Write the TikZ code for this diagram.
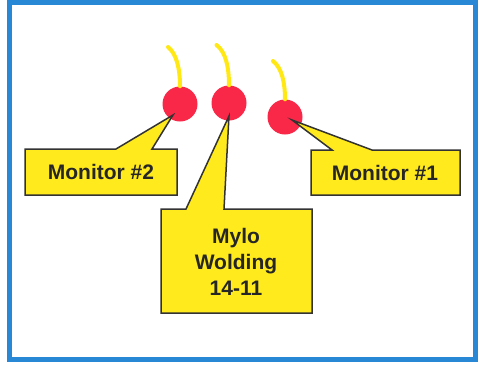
\documentclass[tikz,border=0pt]{standalone}
\usepackage{fontspec}
\setmainfont{Liberation Sans}
\definecolor{frameblue}{RGB}{40,136,214}
\definecolor{bulbred}{RGB}{250,40,72}
\definecolor{wireyellow}{RGB}{255,232,20}
\definecolor{calloutyellow}{RGB}{255,234,30}
\begin{document}
\begin{tikzpicture}[x=1pt,y=-1pt,
  bulb/.style={circle,fill=bulbred,minimum size=35pt,inner sep=0pt},
  wire/.style={draw=wireyellow,line width=4pt,line cap=round},
  callout/.style={fill=calloutyellow,draw=black!80,line width=1.5pt,line join=miter},
  lbl/.style={font=\bfseries\fontsize{21}{26}\selectfont,text=black!85,align=center,inner sep=0pt}]
\useasboundingbox (0,0) rectangle (487,367);
\fill[white] (0,0) rectangle (487,367);
\draw[draw=frameblue,line width=5pt] (9.5,2.5) rectangle (475.5,359.5);
% bulbs
\node[bulb] (m2) at (180,104) {};
\node[bulb] (mylo) at (229,103) {};
\node[bulb] (m1) at (285,117) {};
% wires
\coordinate (w2top) at (168,47);
\coordinate (wmtop) at (216.5,45);
\coordinate (w1top) at (273,61);
\draw[wire] (m2.north) .. controls (180,70) and (177,54) .. (w2top);
\draw[wire] (mylo.north) .. controls (229,68) and (226,52) .. (wmtop);
\draw[wire] (m1.north) .. controls (285,83) and (282,68) .. (w1top);
% pointer tips
\coordinate (t2) at (173,115);
\coordinate (tm) at (229,116);
\coordinate (t1) at (292,120);
% callouts
\path[callout] (25,149) -- (116,149) -- (t2) -- (152,149) -- (177,149) -- (177,195) -- (25,195) -- cycle;
\path[callout] (311,150) -- (332,150) -- (t1) -- (372,150) -- (460,150) -- (460,195) -- (311,195) -- cycle;
\path[callout] (161,209) -- (186,209) -- (tm) -- (224,209) -- (312,209) -- (312,313) -- (161,313) -- cycle;
% labels
\node[lbl] (l2) at (101,172) {Monitor \#2};
\node[lbl] (l1) at (385,173) {Monitor \#1};
\node[lbl] (lm) at (236,262) {Mylo\\Wolding\\14-11};
\end{tikzpicture}
\end{document}
